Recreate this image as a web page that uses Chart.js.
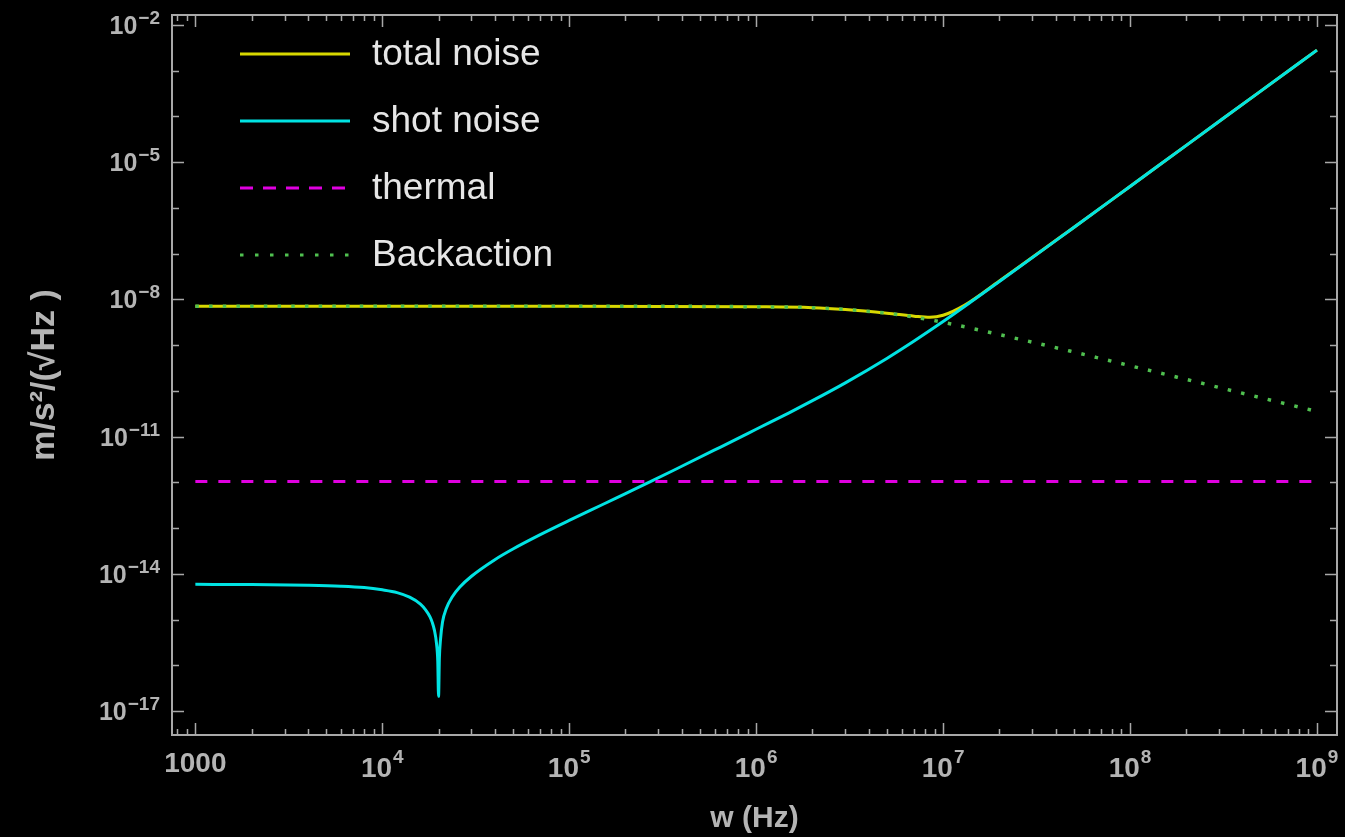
<!DOCTYPE html>
<html>
<head>
<meta charset="utf-8">
<script src="https://cdn.jsdelivr.net/npm/chart.js@4.4.0/dist/chart.umd.min.js"></script>
<style>
html, body { margin: 0; padding: 0; background: #000; }
canvas { display: block; }
</style>
</head>
<body>
<canvas id="myChart" width="1345" height="837"></canvas>
<script>
// values (w in Hz, noise in m/s^2/sqrt(Hz))
var shotFreq = [1e3, 2e3, 4e3, 6e3, 8e3, 1e4, 1.2e4, 1.4e4, 1.6e4, 1.7e4, 1.8e4, 1.85e4, 1.9e4,
    1.95e4, 1.98e4, 2e4, 2.02e4, 2.05e4, 2.1e4, 2.2e4, 2.37e4, 2.6e4, 3e4, 4e4, 5e4, 7e4, 1e5,
    1.5e5, 2e5, 2.7e5, 4e5, 6e5, 8e5, 1e6, 1.5e6, 2e6, 3e6, 5e6, 7e6, 1e7, 1.4e7, 2e7, 5e7,
    1e8, 2e8, 5e8, 1e9];
var shotNoise = [5.89e-15, 5.82e-15, 5.62e-15, 5.37e-15, 5.01e-15, 4.47e-15, 3.89e-15, 3.09e-15,
    2.19e-15, 1.66e-15, 1.15e-15, 8.7e-16, 5.9e-16, 3.0e-16, 1.26e-16, 2.1e-17, 1.41e-16, 3.8e-16,
    8.9e-16, 1.74e-15, 3.16e-15, 5.15e-15, 8.87e-15, 2.04e-14, 3.49e-14, 7.19e-14, 1.47e-13,
    3.24e-13, 5.68e-13, 1.02e-12, 2.25e-12, 5.11e-12, 9.16e-12, 1.45e-11, 3.32e-11, 6.11e-11,
    1.5e-10, 5.12e-10, 1.23e-9, 3.27e-9, 8.63e-9, 2.46e-8, 3.74e-7, 2.95e-6, 2.33e-5, 3.57e-4,
    2.82e-3];

var totalFreq = [1e3, 1e5, 1e6, 2e6, 3e6, 5e6, 7e6, 8.5e6, 1e7, 1.3e7, 2e7, 5e7, 1e8, 2e8, 5e8, 1e9];
var totalNoise = [7.1e-9, 7.1e-9, 6.9e-9, 6.6e-9, 6.0e-9, 5.0e-9, 4.3e-9, 4.05e-9, 4.5e-9,
    7.4e-9, 2.52e-8, 3.74e-7, 2.95e-6, 2.33e-5, 3.57e-4, 2.82e-3];

var thermalFreq = [1e3, 1e9];
var thermalNoise = [1.05e-12, 1.05e-12];

var backFreq = [1e3, 1e5, 1e6, 2e6, 3e6, 5e6, 7e6, 1e7, 2e7, 5e7, 1e8, 2e8, 5e8, 1e9];
var backNoise = [7.1e-9, 7.1e-9, 6.9e-9, 6.6e-9, 6.0e-9, 5.0e-9, 4.1e-9, 3.16e-9, 1.7e-9,
    7.1e-10, 3.55e-10, 1.78e-10, 7.1e-11, 3.55e-11];

var xTickValues = [1e3, 1e4, 1e5, 1e6, 1e7, 1e8, 1e9];
var xTickBase = ['1000', '10', '10', '10', '10', '10', '10'];
var xTickExp = ['', '4', '5', '6', '7', '8', '9'];
var yTickValues = [1e-2, 1e-5, 1e-8, 1e-11, 1e-14, 1e-17];
var yTickBase = ['10', '10', '10', '10', '10', '10'];
var yTickExp = ['\u22122', '\u22125', '\u22128', '\u221211', '\u221214', '\u221217'];

function pts(xs, ys) {
    return xs.map(function (x, i) { return {x: x, y: ys[i]}; });
}

var frameColor = '#a8a8a8';
var labelColor = '#b4b4b4';
var fontFam = '"Liberation Sans", Arial, "DejaVu Sans", sans-serif';

var framePlugin = {
    id: 'frame',
    beforeDraw: function (chart) {
        var ctx = chart.ctx;
        ctx.save();
        ctx.fillStyle = '#000';
        ctx.fillRect(0, 0, chart.width, chart.height);
        ctx.restore();
    },
    beforeDatasetsDraw: function (chart) {
        var ctx = chart.ctx, a = chart.chartArea;
        var xs = chart.scales.x, ys = chart.scales.y;
        ctx.save();
        ctx.strokeStyle = frameColor;
        ctx.lineWidth = 2;
        ctx.strokeRect(a.left, a.top, a.right - a.left, a.bottom - a.top);
        ctx.lineWidth = 1.5;
        ctx.beginPath();
        // x ticks on bottom and top, pointing inward
        for (var d = 2; d <= 9; d++) {
            for (var k = 1; k <= 9; k++) {
                var v = k * Math.pow(10, d);
                if (v < xs.min || v > xs.max) continue;
                var px = Math.round(xs.getPixelForValue(v)) + 0.5;
                var len = k === 1 ? 12 : 6;
                ctx.moveTo(px, a.bottom); ctx.lineTo(px, a.bottom - len);
                ctx.moveTo(px, a.top); ctx.lineTo(px, a.top + len);
            }
        }
        // y ticks, every decade, long ones on labelled decades
        for (var e = -17; e <= -2; e++) {
            var py = Math.round(ys.getPixelForValue(Math.pow(10, e))) + 0.5;
            var l = ((e + 2) % 3 === 0) ? 12 : 7;
            ctx.moveTo(a.left, py); ctx.lineTo(a.left + l, py);
            ctx.moveTo(a.right, py); ctx.lineTo(a.right - l, py);
        }
        ctx.stroke();
        ctx.restore();
    },
    afterDraw: function (chart) {
        var ctx = chart.ctx, a = chart.chartArea;
        var xs = chart.scales.x, ys = chart.scales.y;
        ctx.save();
        ctx.fillStyle = labelColor;
        ctx.textBaseline = 'alphabetic';
        ctx.textAlign = 'left';

        // x tick labels with raised exponents
        xs.ticks.forEach(function (t) {
            var i = xTickValues.indexOf(t.value);
            if (i < 0) return;
            var px = xs.getPixelForValue(t.value);
            ctx.font = 'bold 28px ' + fontFam;
            var wb = ctx.measureText(xTickBase[i]).width;
            ctx.font = 'bold 19px ' + fontFam;
            var we = xTickExp[i] ? ctx.measureText(xTickExp[i]).width + 1 : 0;
            var x0 = px - (wb + we) / 2;
            ctx.font = 'bold 28px ' + fontFam;
            ctx.fillText(xTickBase[i], x0, a.bottom + (we ? 42 : 37));
            if (we) {
                ctx.font = 'bold 19px ' + fontFam;
                ctx.fillText(xTickExp[i], x0 + wb + 1, a.bottom + 28);
            }
        });

        // y tick labels, right aligned against the frame
        ys.ticks.forEach(function (t) {
            var i = yTickValues.indexOf(t.value);
            if (i < 0) return;
            var py = ys.getPixelForValue(t.value);
            var right = a.left - 12;
            ctx.font = 'bold 19px ' + fontFam;
            var we = ctx.measureText(yTickExp[i]).width;
            ctx.fillText(yTickExp[i], right - we, py - 1);
            ctx.font = 'bold 25px ' + fontFam;
            var wb = ctx.measureText(yTickBase[i]).width;
            ctx.fillText(yTickBase[i], right - we - 1 - wb, py + 9);
        });

        // legend inside the plot, top left
        ctx.font = '37px ' + fontFam;
        chart.data.datasets.forEach(function (ds, i) {
            var y = a.top + 39 + i * 67;
            var x0 = a.left + 68;
            ctx.strokeStyle = ds.borderColor;
            ctx.lineWidth = 3;
            ctx.setLineDash(ds.legendDash || []);
            ctx.beginPath();
            ctx.moveTo(x0, y);
            ctx.lineTo(x0 + 110, y);
            ctx.stroke();
            ctx.setLineDash([]);
            ctx.fillStyle = '#e6e6e6';
            ctx.fillText(ds.label, x0 + 132, y + 11);
        });
        ctx.restore();
    }
};

var canvas = document.getElementById('myChart');
new Chart(canvas, {
    type: 'line',
    data: {
        datasets: [{
            label: 'total noise',
            data: pts(totalFreq, totalNoise),
            borderColor: '#d8d800',
            borderWidth: 3,
            order: 4
        }, {
            label: 'shot noise',
            data: pts(shotFreq, shotNoise),
            borderColor: '#00e3e3',
            borderWidth: 3,
            order: 3
        }, {
            label: 'thermal',
            data: pts(thermalFreq, thermalNoise),
            borderColor: '#e000e0',
            borderWidth: 3,
            borderDash: [12, 11],
            legendDash: [13, 10],
            order: 2
        }, {
            label: 'Backaction',
            data: pts(backFreq, backNoise),
            borderColor: '#50c050',
            borderWidth: 3.5,
            borderDash: [3.5, 10.2],
            legendDash: [3.5, 11.5],
            order: 1
        }]
    },
    options: {
        responsive: false,
        animation: false,
        devicePixelRatio: 1,
        layout: { padding: { top: 15, right: 8, left: 0, bottom: 0 } },
        elements: {
            point: { radius: 0 },
            line: { cubicInterpolationMode: 'monotone', fill: false }
        },
        plugins: {
            legend: { display: false },
            tooltip: { enabled: false }
        },
        scales: {
            x: {
                type: 'logarithmic',
                min: 750,
                max: 1.28e9,
                grid: { display: false, drawTicks: false },
                border: { display: false },
                afterBuildTicks: function (scale) {
                    scale.ticks = xTickValues.map(function (v) { return {value: v}; });
                },
                afterFit: function (scale) {
                    scale.height = 102;
                    scale.paddingLeft = 0;
                    scale.paddingRight = 0;
                },
                ticks: { display: false, autoSkip: false },
                title: {
                    display: true,
                    text: 'w (Hz)',
                    color: labelColor,
                    font: { family: fontFam, size: 30, weight: 'bold' },
                    padding: { top: 0, bottom: 0 }
                }
            },
            y: {
                type: 'logarithmic',
                min: 3.2e-18,
                max: 1.65e-2,
                grid: { display: false, drawTicks: false },
                border: { display: false },
                afterBuildTicks: function (scale) {
                    scale.ticks = yTickValues.map(function (v) { return {value: v}; });
                },
                afterFit: function (scale) {
                    scale.width = 172;
                    scale.paddingTop = 0;
                    scale.paddingBottom = 0;
                },
                ticks: { display: false, autoSkip: false },
                title: {
                    display: true,
                    text: 'm/s²/(√Hz )',
                    color: labelColor,
                    font: { family: fontFam, size: 34, weight: 'bold' },
                    padding: { top: 24, bottom: 0 }
                }
            }
        }
    },
    plugins: [framePlugin]
});
</script>
</body>
</html>
